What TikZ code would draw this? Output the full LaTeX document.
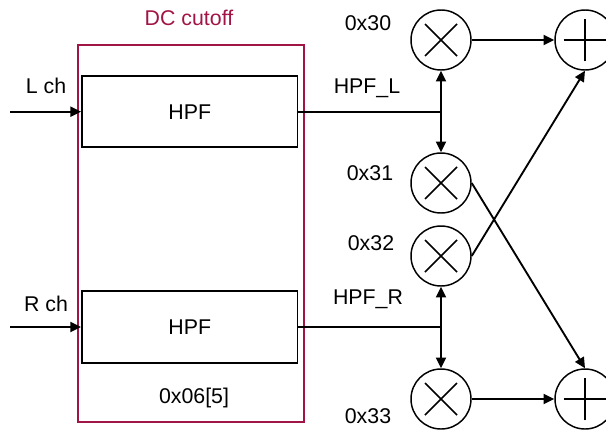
\documentclass[tikz,border=0pt]{standalone}
\usepackage{fontspec}
\setmainfont{Liberation Sans}
\usetikzlibrary{arrows.meta}
\definecolor{cutoffred}{RGB}{160,20,70}

\begin{document}
\begin{tikzpicture}[x=0.75pt, y=-0.75pt,
        font=\fontsize{16}{19}\selectfont,
        line width=1.4pt,
        sig/.style={-{Triangle[length=8pt,width=7.5pt]}},
        filter/.style={draw, minimum width=161.6pt, minimum height=53.5pt, inner sep=0pt},
        mult/.style={circle, draw, line width=1.1pt, minimum size=45pt, inner sep=0pt,
            path picture={\draw ([shift={(-12pt,-12pt)}]path picture bounding box.center) -- ([shift={(12pt,12pt)}]path picture bounding box.center)
                ([shift={(-12pt,12pt)}]path picture bounding box.center) -- ([shift={(12pt,-12pt)}]path picture bounding box.center);}},
        adder/.style={circle, draw, line width=1.1pt, minimum size=45pt, inner sep=0pt,
            path picture={\draw ([xshift=-16pt]path picture bounding box.center) -- ([xshift=16pt]path picture bounding box.center)
                ([yshift=-16pt]path picture bounding box.center) -- ([yshift=16pt]path picture bounding box.center);}}]
            \useasboundingbox (0, 0) rectangle (606, 429);
            %\draw[lightgray] (0, 0) grid[step=50] (606, 429);
            \node[draw=cutoffred, line width=1.5pt, minimum width=169.5pt, minimum height=282.4pt, inner sep=0pt] (dc-box) at (190.5, 233.75) {};
            \node[text=cutoffred] (dc-title) at (189, 18) {DC cutoff};
            \node (dc-reg) at (194, 398) {0x06[5]};
            \node[filter] (hpf-l) at (189.75, 111.7) {HPF};
            \node[filter] (hpf-r) at (189.75, 327) {HPF};
            \node (l-ch) at (46, 86) {L ch};
            \node (r-ch) at (46, 304) {R ch};
            \coordinate (in-l) at (10, 111.7);
            \coordinate (in-r) at (10, 327);
            \coordinate (split-l) at (441, 111.7);
            \coordinate (split-r) at (441, 327);
            \node (hpf-l-name) at (367, 88) {HPF\_L};
            \node (hpf-r-name) at (368, 299) {HPF\_R};
            % gains
            \node[mult] (mul-30) at (441, 40) {};
            \node[mult] (mul-31) at (441, 183) {};
            \node[mult] (mul-32) at (441, 256) {};
            \node[mult] (mul-33) at (441, 399) {};
            \node (reg-30) at (368, 23) {0x30};
            \node (reg-31) at (370, 173) {0x31};
            \node (reg-32) at (371, 243) {0x32};
            \node (reg-33) at (368, 416) {0x33};
            \node[adder] (sum-l) at (585, 40) {};
            \node[adder] (sum-r) at (585, 399) {};
            % wiring
            \draw[sig] (in-l) -- (hpf-l.west);
            \draw[sig] (in-r) -- (hpf-r.west);
            \draw (hpf-l.east) -- (split-l);
            \draw (hpf-r.east) -- (split-r);
            \draw[sig] (split-l) -- (mul-30.south);
            \draw[sig] (split-l) -- (mul-31.north);
            \draw[sig] (split-r) -- (mul-32.south);
            \draw[sig] (split-r) -- (mul-33.north);
            \draw[sig] (mul-30.east) -- (sum-l.west);
            \draw[sig] (mul-33.east) -- (sum-r.west);
            \draw[sig] (mul-31.east) -- (sum-r.north);
            \draw[sig] (mul-32.east) -- (sum-l.south);
        \end{tikzpicture}
\end{document}
